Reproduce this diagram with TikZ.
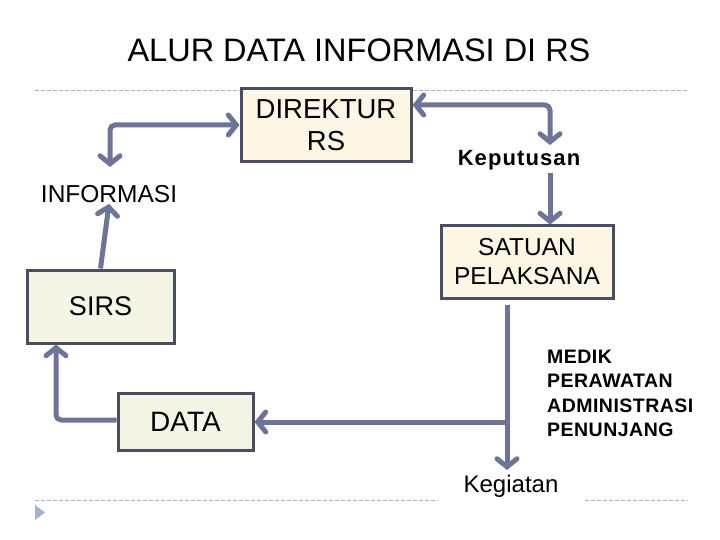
\documentclass[tikz,border=0pt]{standalone}
\usepackage{fontspec}
\setmainfont{Liberation Sans}
\usepackage{xcolor}
\usetikzlibrary{arrows.meta, positioning, calc}
\definecolor{flowblue}{HTML}{6E7499}
\definecolor{boxedge}{HTML}{4B4D60}
\definecolor{creamfill}{HTML}{FDF6E4}
\definecolor{palefill}{HTML}{F5F5E6}
\definecolor{rulegray}{HTML}{B0B0B0}
\definecolor{bulletblue}{HTML}{A3B4CC}

\begin{document}
\begin{tikzpicture}[x=1pt, y=-1pt,
  every node/.style={font=\fontsize{27}{32}\selectfont},
  box/.style={draw=boxedge, line width=3pt, inner sep=0pt, align=center},
  flow/.style={draw=flowblue, line width=5pt, rounded corners=5pt, line join=round,
    arrows={-Straight Barb[length=8pt, width=20pt, line cap=round]}},
  biflow/.style={flow, arrows={Straight Barb[length=8pt, width=20pt, line cap=round]-Straight Barb[length=8pt, width=20pt, line cap=round]}}]
  \fill[white] (0,0) rectangle (720,540);
  \draw[rulegray, line width=0.8pt, dash pattern=on 4pt off 2pt] (35,90) -- (688,90);
  \draw[rulegray, line width=0.8pt, dash pattern=on 4pt off 2pt] (35,500) -- (438,500);
  \draw[rulegray, line width=0.8pt, dash pattern=on 4pt off 2pt] (585,500) -- (688,500);
  \fill[bulletblue] (35,505) -- (45,512.5) -- (35,520) -- cycle;

  \node[font=\fontsize{32.5}{36}\selectfont] (title) at (359,50) {ALUR DATA INFORMASI DI RS};
  \node[box, fill=creamfill, minimum width=170pt, minimum height=73pt, font=\fontsize{27.5}{32}\selectfont] (direktur) at (326,125.5) {DIREKTUR\\RS};
  \node[box, fill=creamfill, minimum width=172pt, minimum height=72pt, font=\fontsize{24.5}{29}\selectfont] (satuan) at (527,262) {SATUAN\\PELAKSANA};
  \node[box, fill=palefill, minimum width=147pt, minimum height=73pt] (sirs) at (100.5,306.5) {SIRS};
  \node[box, fill=palefill, minimum width=135pt, minimum height=57pt, font=\fontsize{28}{30}\selectfont] (data) at (185.5,421.5) {DATA};

  \node[font=\fontsize{24.5}{28}\selectfont, inner sep=1pt] (informasi) at (109,194) {INFORMASI};
  \node[font=\fontsize{22}{26}\selectfont\bfseries\addfontfeatures{LetterSpace=5}, inner sep=1pt] (keputusan) at (519,160) {Keputusan};
  \node[font=\fontsize{19.5}{24.3}\selectfont\bfseries\addfontfeatures{LetterSpace=2.5}, anchor=north west, align=left, inner sep=0pt] (bidang) at (547,350) {MEDIK\\PERAWATAN\\ADMINISTRASI\\PENUNJANG};
  \node[font=\fontsize{24}{28}\selectfont, inner sep=1pt] (kegiatan) at (511,486) {Kegiatan};

  \coordinate (infoend) at (110,167);
  \coordinate (keputend) at (550,145);
  \coordinate (keputstart) at (550,173);
  \coordinate (satuanout) at (507,305);
  \coordinate (kegiatanend) at (507,470);
  \coordinate (cabang) at (507,422);

  \draw[biflow] (infoend) |- (direktur.west |- 0,125);
  \draw[biflow] (direktur.east |- 0,105) -| (keputend);
  \draw[flow] (keputstart) -- (satuan.north -| keputstart);
  \draw[flow] (sirs.north) -- (informasi.south);
  \draw[flow] (data.west |- 0,420) -| (sirs.south -| 56,0);
  \draw[flow] (satuanout) -- (kegiatanend);
  \draw[flow] (cabang) -- (data.east |- cabang);
\end{tikzpicture}
\end{document}
